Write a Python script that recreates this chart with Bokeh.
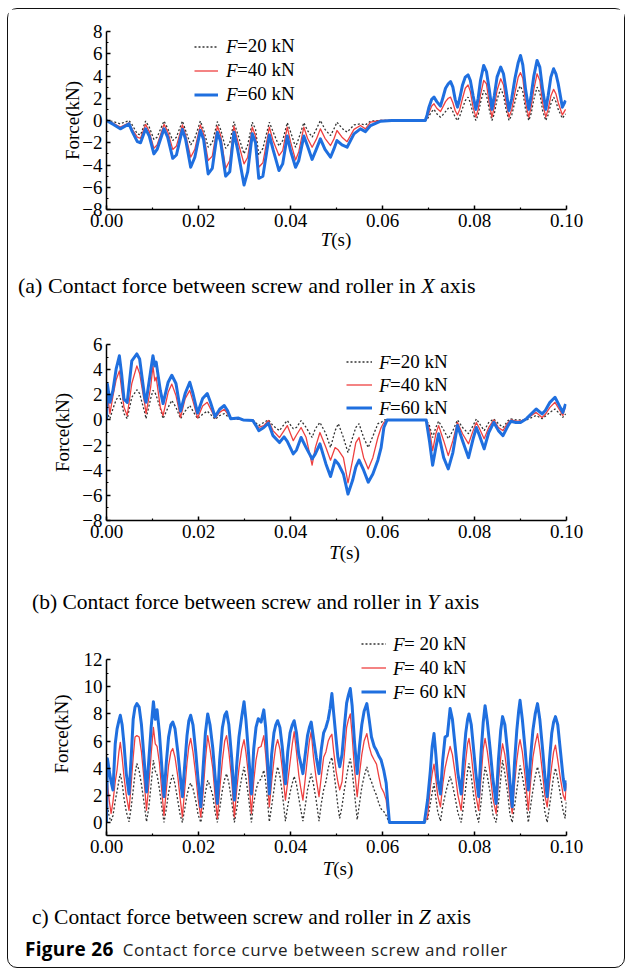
from bokeh.plotting import figure
from bokeh.models import (Range1d, FixedTicker, Legend, LegendItem, Label, Div,
                          NumeralTickFormatter)
from bokeh.layouts import column
from bokeh.core.properties import value
from bokeh.embed import file_html
from bokeh.resources import INLINE

# ---------------- data (time in s, force in kN) ----------------
X_TICKS = [0.0, 0.02, 0.04, 0.06, 0.08, 0.10]
X_MINOR = [0.01, 0.03, 0.05, 0.07, 0.09]
LEGEND_A = ["=20 kN", "=40 kN", "=60 kN"]
LEGEND_C = ["= 20 kN", "= 40 kN", "= 60 kN"]

# (a) X axis
TA = [0.0, 0.0015, 0.0030, 0.0049, 0.0056, 0.0067, 0.0074, 0.0085, 0.0093, 0.0103,
      0.0110, 0.0125, 0.0133, 0.0144, 0.0152, 0.0165, 0.0172, 0.0183, 0.0192, 0.0204,
      0.0211, 0.0221, 0.0230, 0.0241, 0.0248, 0.0259, 0.0268, 0.0277, 0.0285, 0.0299,
      0.0307, 0.0317, 0.0324, 0.0331, 0.0340, 0.0354, 0.0362, 0.0375, 0.0383, 0.0393,
      0.0400, 0.0411, 0.0418, 0.0429, 0.0437, 0.0447, 0.0456, 0.0465, 0.0475, 0.0487,
      0.0494, 0.0501, 0.0512, 0.0523, 0.0538, 0.0552, 0.0563, 0.0574, 0.0596, 0.0620,
      0.0693, 0.0697, 0.0701, 0.0707, 0.0712, 0.0718, 0.0726,
      0.0731, 0.0737, 0.0743, 0.0748, 0.0753, 0.0758, 0.0763,
      0.0768, 0.0774, 0.0780, 0.0786, 0.0791, 0.0797, 0.0803,
      0.0808, 0.0813, 0.0820, 0.0826, 0.0832, 0.0838,
      0.0843, 0.0849, 0.0857, 0.0863, 0.0869, 0.0875,
      0.0881, 0.0888, 0.0895, 0.0900, 0.0905, 0.0911, 0.0918,
      0.0923, 0.0929, 0.0936, 0.0942, 0.0948, 0.0955,
      0.0960, 0.0966, 0.0972, 0.0977, 0.0982, 0.0991, 0.0998]
A60 = [0.0, -0.35, -0.75, -0.3, -1.0, -1.9, -2.0, -0.75, -1.4, -3.0,
       -2.6, -0.75, -1.5, -3.4, -3.1, -0.8, -1.7, -4.2, -3.3, -0.9,
       -1.7, -4.8, -4.3, -1.05, -1.9, -5.0, -4.6, -1.05, -2.6, -5.8,
       -4.6, -1.2, -2.0, -5.2, -5.0, -1.3, -2.6, -4.5, -3.9, -1.4,
       -2.7, -4.2, -3.6, -1.4, -2.3, -3.5, -2.6, -1.65, -2.6, -3.3,
       -2.6, -1.8, -2.2, -2.4, -1.2, -0.75, -1.0, -0.45, -0.06, 0.0,
       0.0, 0.5, 1.2, 1.9, 2.1, 1.7, 1.3,
       2.0, 2.9, 3.3, 3.5, 3.0, 1.9, 1.2,
       2.0, 3.2, 3.9, 4.1, 3.6, 2.2, 1.0,
       2.0, 3.6, 4.95, 4.4, 2.8, 1.0,
       2.2, 3.9, 4.8, 4.2, 2.6, 0.9,
       2.0, 3.8, 5.2, 5.85, 5.0, 2.8, 1.0,
       2.2, 4.0, 5.4, 4.8, 2.8, 1.0,
       2.2, 3.9, 4.65, 4.2, 3.3, 1.2, 1.8]
A40 = [0.0, -0.25, -0.6, -0.2, -0.8, -1.5, -1.6, -0.35, -1.0, -2.5,
       -2.2, -0.35, -1.0, -2.6, -2.3, -0.4, -1.3, -3.3, -2.6, -0.4,
       -1.2, -3.6, -3.2, -0.5, -1.3, -4.3, -3.6, -0.5, -1.8, -3.9,
       -3.3, -0.6, -1.4, -4.2, -3.8, -0.6, -1.8, -3.15, -2.7, -0.6,
       -1.9, -3.55, -2.8, -0.6, -1.6, -2.4, -1.7, -0.75, -1.6, -2.25,
       -1.7, -0.9, -1.5, -1.9, -0.8, -0.45, -0.75, -0.15, 0.0, 0.0,
       0.0, 0.3, 0.7, 1.3, 1.5, 1.1, 0.8,
       1.2, 1.7, 2.0, 2.1, 1.6, 0.9, 0.5,
       1.0, 2.0, 2.9, 3.2, 2.6, 1.2, 0.3,
       1.0, 2.3, 3.6, 3.3, 1.6, 0.3,
       1.2, 2.7, 3.75, 3.2, 1.5, 0.3,
       1.0, 2.5, 3.9, 4.3, 3.8, 1.6, 0.3,
       1.2, 2.8, 4.2, 3.6, 1.6, 0.3,
       1.0, 2.2, 2.8, 2.4, 1.6, 0.5, 1.0]
A20 = [0.0, -0.1, -0.3, 0.0, -0.4, -1.2, -1.3, -0.05, -0.6, -1.7,
       -1.5, -0.05, -0.7, -1.8, -1.5, -0.05, -0.9, -2.2, -1.6, -0.05,
       -0.8, -2.4, -2.0, -0.1, -0.8, -2.5, -2.0, -0.1, -1.2, -3.0,
       -2.2, -0.15, -0.8, -3.1, -2.5, -0.15, -1.0, -2.3, -1.8, -0.2,
       -1.0, -2.4, -1.6, -0.2, -0.9, -1.5, -0.8, 0.0, -0.8, -1.35,
       -0.8, -0.15, -0.7, -1.05, -0.4, -0.3, -0.4, -0.05, 0.0, 0.0,
       0.0, 0.1, 0.4, 0.8, 1.0, 0.6, 0.3,
       0.5, 0.8, 1.1, 1.2, 0.8, 0.3, 0.0,
       0.4, 1.1, 1.8, 2.1, 1.6, 0.6, 0.0,
       0.5, 1.6, 2.7, 2.3, 1.0, 0.0,
       0.6, 1.9, 2.85, 2.3, 0.9, 0.0,
       0.5, 1.7, 2.8, 3.1, 2.6, 1.0, 0.0,
       0.6, 1.9, 3.0, 2.5, 0.9, 0.0,
       0.5, 1.5, 2.1, 1.7, 1.0, 0.2, 0.6]
YA_TICKS = [-8, -6, -4, -2, 0, 2, 4, 6, 8]
YA_MINOR = [-7, -5, -3, -1, 1, 3, 5, 7]

# (b) Y axis
TB = [0.0, 0.0002, 0.00075, 0.0014, 0.0021, 0.0028, 0.0033, 0.0038, 0.0045, 0.0055,
      0.0066, 0.0072, 0.0083, 0.0086, 0.0096, 0.0101, 0.0105, 0.0108, 0.0117, 0.0123,
      0.0134, 0.0142, 0.0151, 0.0161, 0.0171, 0.0181, 0.0188, 0.0198, 0.0209, 0.0219,
      0.0226, 0.0236, 0.0246, 0.0256, 0.0263, 0.0270, 0.0287, 0.0297, 0.0318, 0.0325,
      0.0331, 0.0342, 0.0352, 0.0362, 0.0376, 0.0386, 0.0393, 0.0406, 0.0413, 0.0423,
      0.0434, 0.0447, 0.0454, 0.0464, 0.0477, 0.0487, 0.0497, 0.0504, 0.0515, 0.0525,
      0.0535, 0.0542, 0.0549, 0.0559, 0.0569, 0.0579, 0.0590, 0.0597, 0.0603, 0.0610,
      0.0695, 0.0702, 0.0709, 0.0716, 0.0722, 0.0733, 0.0743, 0.0753, 0.0763, 0.0774,
      0.0787, 0.0797, 0.0804, 0.0811, 0.0821, 0.0831, 0.0842, 0.0852, 0.0862, 0.0873,
      0.0879, 0.0890, 0.0900, 0.0913, 0.0934, 0.0947, 0.0954, 0.0964, 0.0975, 0.0985,
      0.0992, 0.0998]
B60 = [0.0, 2.85, 1.4, 2.35, 4.06, 5.1, 3.6, 1.65, 1.4, 4.7,
       5.25, 4.85, 1.8, 1.4, 3.9, 5.1, 4.3, 4.6, 2.35, 1.3,
       3.0, 3.55, 2.9, 0.7, 2.1, 3.0, 2.1, 0.55, 1.7, 2.1,
       1.4, 0.25, 0.85, 1.15, 0.75, 0.1, 0.15, 0.0, -0.05, -0.45,
       -0.85, -0.6, -0.25, -1.25, -1.8, -1.35, -1.7, -2.7, -2.4, -1.4,
       -2.2, -3.1, -2.7, -1.9, -3.5, -4.5, -3.2, -3.5, -4.3, -5.9,
       -4.8, -3.75, -3.2, -4.0, -4.95, -4.3, -3.2, -2.2, -0.6, 0.0,
       0.0, -1.65, -3.6, -2.2, -1.1, -3.0, -3.9, -2.6, -0.45, -1.65,
       -3.0, -1.5, -0.6, -1.25, -2.3, -1.0, -0.2, -0.85, -1.25, -0.45,
       -0.1, -0.2, -0.2, 0.1, 0.87, 0.48, 0.75, 1.4, 1.8, 1.1,
       0.6, 1.27]
B40 = [0.0, 2.0, 0.5, 1.9, 3.2, 3.9, 2.4, 1.0, 0.35, 2.9,
       4.3, 3.7, 1.3, 0.5, 2.6, 4.3, 3.1, 3.4, 1.0, 0.35,
       2.2, 2.85, 1.95, 0.2, 1.7, 2.35, 1.5, 0.15, 1.1, 1.4,
       0.9, 0.15, 0.6, 0.85, 0.5, 0.1, 0.1, 0.0, 0.0, -0.45,
       -0.6, -0.45, -0.05, -0.85, -1.4, -0.85, -0.45, -1.65, -1.2, -0.6,
       -1.4, -3.6, -2.2, -1.0, -2.2, -3.2, -2.2, -2.4, -3.0, -5.0,
       -3.2, -1.8, -1.4, -3.0, -3.9, -3.0, -1.4, -0.6, -0.2, 0.0,
       0.0, -0.7, -2.44, -1.1, -0.45, -1.65, -2.84, -1.65, -0.2, -1.1,
       -1.9, -0.85, -0.2, -0.7, -1.5, -0.6, 0.0, -0.6, -0.85, -0.2,
       0.0, -0.1, -0.1, 0.1, 0.6, 0.2, 0.45, 1.0, 1.4, 0.8,
       0.35, 1.14]
B20 = [0.0, 0.5, 0.1, 0.9, 1.6, 1.95, 1.3, 0.5, 0.1, 1.8,
       2.4, 2.1, 0.6, 0.1, 1.7, 2.35, 2.2, 1.95, 0.9, 0.1,
       1.0, 1.55, 1.0, 0.1, 0.7, 1.15, 0.7, 0.1, 0.45, 0.7,
       0.45, 0.05, 0.35, 0.5, 0.3, 0.1, 0.05, 0.0, 0.0, -0.25,
       -0.45, -0.2, 0.0, -0.45, -0.85, -0.35, -0.05, -0.7, -0.6, -0.05,
       -0.6, -1.4, -0.7, -0.2, -1.1, -2.2, -0.85, -0.3, -1.4, -2.6,
       -1.4, -0.6, -0.3, -1.4, -2.2, -1.3, -0.3, -0.2, 0.0, 0.0,
       0.0, -0.45, -1.4, -0.6, -0.1, -0.8, -1.5, -0.85, 0.0, -0.6,
       -1.1, -0.45, 0.08, -0.3, -0.85, -0.2, 0.08, -0.3, -0.6, -0.05,
       0.08, 0.0, 0.0, 0.0, 0.35, 0.1, 0.3, 0.6, 0.87, 0.5,
       0.2, 0.48]
YB_TICKS = [-8, -6, -4, -2, 0, 2, 4, 6]
YB_MINOR = [-7, -5, -3, -1, 1, 3, 5]

# (c) Z axis
TC = [0.0000, 0.0002, 0.0006, 0.0010,
      0.0014, 0.0019, 0.0023, 0.0027, 0.0030, 0.0034, 0.0038, 0.0043,
      0.0049, 0.0054, 0.0058, 0.0062, 0.0066, 0.0071, 0.0076, 0.0081,
      0.0087, 0.0092, 0.0097, 0.0102, 0.0106, 0.0110, 0.0115, 0.0120,
      0.0125, 0.0130, 0.0135, 0.0140, 0.0144, 0.0149, 0.0155, 0.0160,
      0.0165, 0.0170, 0.0175, 0.0179, 0.0183, 0.0188, 0.0194, 0.0199,
      0.0205, 0.0210, 0.0215, 0.0220, 0.0225, 0.0231, 0.0236,
      0.0241, 0.0246, 0.0252, 0.0257, 0.0261, 0.0266, 0.0272,
      0.0278, 0.0283, 0.0288, 0.0294, 0.0299, 0.0303, 0.0309,
      0.0315, 0.0320, 0.0325, 0.0330, 0.0336, 0.0342, 0.0346, 0.0350,
      0.0354, 0.0359, 0.0364, 0.0368, 0.0372, 0.0377, 0.0382,
      0.0389, 0.0394, 0.0399, 0.0404, 0.0408, 0.0413, 0.0418, 0.0422,
      0.0427, 0.0432, 0.0437, 0.0441, 0.0445, 0.0450, 0.0456,
      0.0462, 0.0467, 0.0472, 0.0477, 0.0482, 0.0486, 0.0490, 0.0494, 0.0499, 0.0503,
      0.0507, 0.0512, 0.0517, 0.0522, 0.0526, 0.0530, 0.0534, 0.0539,
      0.0545, 0.0550, 0.0555, 0.0560, 0.0566, 0.0571, 0.0576,
      0.0582, 0.0587, 0.0592, 0.0597, 0.0603, 0.0608, 0.0612, 0.0615,
      0.0691, 0.0698, 0.0704, 0.0708, 0.0712, 0.0716, 0.0720,
      0.0726, 0.0731, 0.0736, 0.0741, 0.0747, 0.0752, 0.0758, 0.0764,
      0.0771, 0.0776, 0.0781, 0.0785, 0.0788, 0.0793, 0.0798, 0.0803,
      0.0809, 0.0814, 0.0819, 0.0823, 0.0828, 0.0834, 0.0840,
      0.0847, 0.0852, 0.0857, 0.0861, 0.0866, 0.0872, 0.0877,
      0.0882, 0.0887, 0.0892, 0.0896, 0.0899, 0.0904, 0.0910,
      0.0917, 0.0922, 0.0927, 0.0932, 0.0937, 0.0942, 0.0948, 0.0953,
      0.0958, 0.0963, 0.0968, 0.0972, 0.0976, 0.0981, 0.0987, 0.0993,
      0.0997, 0.1000]
C60 = [0.0, 4.7, 3.8, 3.0,
       2.4, 5.8, 6.9, 7.5, 7.9, 7.2, 5.8, 3.6,
       2.1, 5.0, 7.6, 8.5, 8.76, 8.5, 7.2, 5.0,
       2.25, 4.6, 7.0, 8.9, 7.6, 8.3, 6.6, 4.2,
       1.9, 4.4, 6.3, 7.2, 7.4, 6.9, 5.2, 3.5,
       1.9, 4.2, 6.4, 7.5, 7.9, 7.2, 5.2, 3.2,
       1.15, 4.0, 6.6, 8.0, 7.2, 5.5, 3.4,
       1.4, 4.6, 7.0, 7.9, 8.15, 7.2, 4.8,
       1.65, 4.2, 6.3, 7.8, 8.9, 7.6, 5.0,
       2.1, 5.4, 7.0, 7.65, 7.4, 8.3, 7.0, 4.6,
       2.1, 5.0, 6.6, 7.2, 7.5, 7.0, 5.6,
       2.85, 5.2, 6.6, 7.2, 7.5, 6.6, 5.0, 4.4,
       3.6, 5.0, 6.4, 7.0, 7.4, 6.2, 4.8,
       3.6, 5.4, 6.6, 7.0, 7.6, 8.4, 9.5, 8.0, 6.2, 4.8,
       4.1, 5.0, 7.0, 8.8, 9.4, 9.87, 8.6, 6.0,
       3.6, 5.6, 7.2, 8.2, 8.76, 7.6, 6.3,
       5.6, 5.3, 4.9, 4.6, 3.8, 2.9, 1.2, 0.0,
       0.0, 1.65, 3.8, 5.6, 6.55, 5.0, 3.2,
       2.1, 4.6, 6.3, 6.4, 8.4, 7.6, 5.6, 3.6,
       2.1, 4.6, 6.6, 7.6, 8.0, 7.2, 5.4, 3.6,
       1.9, 5.0, 7.4, 8.6, 7.4, 5.4, 3.2,
       1.4, 4.6, 6.8, 7.8, 7.2, 5.2, 3.0,
       1.15, 4.4, 6.8, 8.2, 9.0, 7.6, 5.4,
       2.4, 4.8, 6.8, 8.0, 8.76, 7.6, 5.4, 3.4,
       1.9, 4.6, 6.6, 7.4, 7.8, 7.2, 5.2, 3.2,
       2.4, 3.1]
C40 = [0.0, 2.9, 1.6, 0.66,
       1.5, 3.0, 3.9, 5.2, 5.9, 4.8, 3.4, 2.0,
       0.9, 3.0, 4.8, 6.3, 6.4, 6.3, 5.2, 3.4,
       0.9, 2.8, 5.0, 7.0, 5.8, 5.6, 4.4, 2.4,
       0.5, 2.4, 4.2, 5.2, 5.45, 4.8, 3.4, 1.8,
       0.4, 2.4, 4.4, 5.6, 6.2, 5.2, 3.5, 1.8,
       0.4, 2.2, 4.6, 6.4, 5.4, 4.0, 2.0,
       0.3, 2.4, 4.6, 6.0, 6.4, 5.2, 3.2,
       0.4, 2.4, 4.0, 5.4, 6.1, 5.2, 3.4,
       0.66, 3.0, 4.6, 5.5, 5.6, 6.4, 5.0, 3.2,
       1.15, 3.0, 4.6, 5.6, 6.1, 5.4, 4.0,
       1.65, 3.0, 4.4, 5.8, 6.7, 5.2, 3.5, 2.6,
       1.65, 3.2, 4.8, 6.0, 6.7, 4.8, 3.2,
       1.9, 3.4, 4.8, 5.2, 6.0, 6.3, 6.5, 5.2, 3.8, 3.0,
       2.4, 3.0, 5.0, 7.0, 7.6, 8.0, 6.4, 4.0,
       1.9, 3.6, 5.0, 6.0, 6.55, 5.6, 5.0,
       4.6, 4.3, 3.4, 2.6, 2.2, 1.65, 0.6, 0.0,
       0.0, 0.4, 2.6, 3.6, 4.3, 3.2, 2.0,
       1.15, 2.8, 4.0, 4.8, 5.6, 5.0, 3.6, 2.0,
       0.9, 2.8, 4.6, 5.8, 6.2, 5.0, 3.4, 2.0,
       0.9, 3.2, 5.4, 6.2, 5.2, 3.6, 1.8,
       0.66, 3.0, 4.8, 5.8, 5.0, 3.4, 1.8,
       0.66, 2.8, 4.6, 5.6, 6.1, 5.2, 3.4,
       0.9, 3.0, 4.8, 5.8, 6.55, 5.4, 3.6, 2.0,
       1.15, 2.8, 4.2, 5.2, 5.7, 4.6, 3.2, 2.0,
       1.65, 2.9]
C20 = [0.0, 1.2, 0.4, 0.1,
       0.5, 1.6, 2.3, 3.1, 3.6, 2.9, 1.8, 0.8,
       0.05, 1.2, 2.4, 3.6, 4.35, 3.8, 2.8, 1.6,
       0.05, 1.1, 2.8, 4.6, 3.8, 3.5, 2.5, 1.2,
       0.0, 1.0, 2.2, 3.1, 3.5, 2.8, 1.6, 0.6,
       0.0, 1.0, 2.0, 2.6, 2.9, 2.5, 1.6, 0.6,
       0.0, 0.9, 2.2, 3.1, 2.7, 2.0, 0.8,
       0.0, 1.0, 2.4, 3.2, 3.6, 2.9, 1.6,
       0.0, 1.0, 2.1, 3.3, 4.1, 3.3, 1.8,
       0.0, 1.4, 2.4, 3.0, 3.2, 3.85, 3.0, 1.6,
       0.05, 1.2, 2.4, 3.4, 4.1, 3.4, 2.2,
       0.1, 1.2, 2.2, 2.9, 3.4, 2.8, 1.8, 1.0,
       0.1, 1.2, 2.4, 3.0, 3.6, 2.8, 1.6,
       0.1, 1.4, 2.4, 3.0, 4.0, 4.5, 4.8, 3.8, 2.4, 1.2,
       0.3, 1.2, 2.4, 3.4, 4.2, 4.7, 3.8, 2.2,
       0.2, 1.4, 2.6, 3.4, 4.1, 3.4, 3.0,
       2.4, 2.0, 1.4, 1.0, 0.8, 0.5, 0.2, 0.0,
       0.0, 0.2, 1.4, 2.2, 2.9, 1.8, 0.8,
       0.1, 1.2, 2.0, 2.7, 3.4, 2.8, 1.8, 0.7,
       0.0, 1.2, 2.6, 3.8, 4.35, 3.4, 2.0, 0.8,
       0.0, 1.4, 3.0, 4.1, 3.4, 2.2, 0.6,
       0.0, 1.4, 3.2, 4.6, 3.6, 2.2, 0.6,
       0.0, 1.2, 2.4, 3.4, 4.2, 3.4, 2.2,
       0.0, 1.2, 2.4, 3.4, 4.1, 3.4, 2.2, 0.8,
       0.0, 1.2, 2.4, 3.4, 4.0, 3.2, 2.0, 0.8,
       0.3, 1.65]
YC_TICKS = [0, 2, 4, 6, 8, 10, 12]
YC_MINOR = [1, 3, 5, 7, 9, 11]

for _t, _series in ((TA, (A20, A40, A60)), (TB, (B20, B40, B60)), (TC, (C20, C40, C60))):
    for _s in _series:
        assert len(_s) == len(_t), (len(_s), len(_t))

# ---------------- styling ----------------
SERIF = "Liberation Serif"
BLUE = "#1f6fdf"
RED = "#ee4040"
GREY = "#333333"
FS = "19px"
W = 616


def panel(t, v20, v40, v60, yr, ybounds, yt, ym, h, mb_top, mb_left, frame_w, mb_bottom,
          lab_standoff, labels, leg_x, leg_y, glyph_w, standoff, spacing, f_x, f_ys):
    p = figure(width=W, height=h, x_range=Range1d(0, 0.1), y_range=Range1d(*yr),
               output_backend="svg", toolbar_location=None,
               min_border_top=mb_top, min_border_left=mb_left,
               min_border_right=W - mb_left - frame_w, min_border_bottom=mb_bottom)
    p.xgrid.visible = False
    p.ygrid.visible = False
    p.outline_line_color = None
    p.background_fill_color = "white"
    p.border_fill_color = "white"

    r20 = p.line(t, v20, line_color=GREY, line_width=1.3, line_dash="2 2")
    r40 = p.line(t, v40, line_color=RED, line_width=1.3, line_join="round")
    r60 = p.line(t, v60, line_color=BLUE, line_width=3, line_join="round")

    p.xaxis.ticker = FixedTicker(ticks=X_TICKS, minor_ticks=X_MINOR)
    p.xaxis.formatter = NumeralTickFormatter(format="0.00")
    p.yaxis.ticker = FixedTicker(ticks=yt, minor_ticks=ym)
    p.yaxis.bounds = ybounds
    p.yaxis.axis_label = "Force(kN)"
    for ax in (p.xaxis[0], p.yaxis[0]):
        ax.axis_line_width = 1.5
        ax.axis_line_color = "black"
        ax.major_tick_line_width = 1.5
        ax.major_tick_line_color = "black"
        ax.minor_tick_line_width = 1.2
        ax.minor_tick_line_color = "black"
        ax.major_tick_in = 4
        ax.major_tick_out = 0
        ax.minor_tick_in = 2
        ax.minor_tick_out = 0
        ax.major_label_text_font = SERIF
        ax.major_label_text_font_size = FS
        ax.major_label_text_color = "black"
        ax.major_label_standoff = 4
    yax = p.yaxis[0]
    yax.axis_label_text_font = SERIF
    yax.axis_label_text_font_size = FS
    yax.axis_label_text_font_style = "normal"
    yax.axis_label_text_color = "black"
    yax.axis_label_standoff = lab_standoff

    items = [LegendItem(label=value(labels[0]), renderers=[r20]),
             LegendItem(label=value(labels[1]), renderers=[r40]),
             LegendItem(label=value(labels[2]), renderers=[r60])]
    leg = Legend(items=items, location=(leg_x, leg_y), orientation="vertical",
                 padding=0, margin=0, spacing=spacing, glyph_width=glyph_w,
                 glyph_height=23, label_height=23, label_width=20,
                 label_standoff=standoff, label_text_font=SERIF,
                 label_text_font_size=FS, label_text_color="black",
                 background_fill_alpha=0, border_line_alpha=0)
    p.add_layout(leg)
    for fy in f_ys:
        p.add_layout(Label(x=f_x, y=fy, x_units="screen", y_units="screen", text="F",
                           text_font=SERIF, text_font_style="italic",
                           text_font_size=FS, text_color="black",
                           text_baseline="middle", text_align="left"))
    return p


pa = panel(TA, A20, A40, A60, (-8, 8), (-8, 8), YA_TICKS, YA_MINOR, 228, 22, 98, 460, 28, -4,
           LEGEND_A, 88, 103.5, 24, 19, 1, 119.5, [163, 139, 115])
pb = panel(TB, B20, B40, B60, (-8, 6), (-8, 6), YB_TICKS, YB_MINOR, 226, 22, 92, 489, 28, 6,
           LEGEND_A, 240, 101, 26, 18, 0, 272.5, [158.3, 135.3, 112.3])
pc = panel(TC, C20, C40, C60, (-0.96, 14.0), (-0.96, 12), YC_TICKS, YC_MINOR, 234, 3, 90, 480, 28, 9,
           LEGEND_C, 255, 132, 25, 18, 1, 286.5, [191.3, 167.3, 143.3])

TXT = "font-family:'Liberation Serif';line-height:20px;color:#000;white-space:nowrap;position:relative;"


def tlabel(frame_left, frame_w, dy, h):
    html = (f'<div style="{TXT}font-size:19px;top:{dy}px;margin-left:{frame_left}px;width:{frame_w}px;'
            f'text-align:center;"><i>T</i>(s)</div>')
    return Div(text=html, width=W, height=h, margin=(0, 0, 0, 0))


def caption(html_text, left, dy, h, size):
    html = f'<div style="{TXT}font-size:{size}px;top:{dy}px;margin-left:{left}px;">{html_text}</div>'
    return Div(text=html, width=W, height=h, margin=(0, 0, 0, 0))


ta = tlabel(98, 460, -7, 15)
ca = caption("(a) Contact force between screw and roller in <i>X</i> axis", 10, 24, 70, 22)
tb = tlabel(92, 489, -5, 15)
cb = caption("(b) Contact force between screw and roller in <i>Y</i> axis", 24, 29, 66, 21.5)
tc = tlabel(90, 480, -4, 15)
cc = caption("c) Contact force between screw and roller in <i>Z</i> axis", 24, 29, 56, 21.5)
title = Div(text=('<div style="font-family:\'Open Sans\';line-height:20px;'
                  'color:#222;white-space:nowrap;position:relative;top:5px;margin-left:17px;">'
                  '<b style="color:#000;font-size:19px;letter-spacing:0.3px;">Figure 26</b>'
                  '<span style="display:inline-block;width:9px;"></span>'
                  '<span style="font-size:17px;letter-spacing:0.6px;">Contact force curve between screw and roller</span></div>'),
            width=W, height=33, margin=(0, 0, 0, 0))

layout = column(pa, ta, ca, pb, tb, cb, pc, tc, cc, title, spacing=0, margin=(8, 0, 0, 7),
                styles={"border": "1px solid #111", "border-radius": "10px"})

open("out.html", "w").write(file_html(layout, INLINE))
